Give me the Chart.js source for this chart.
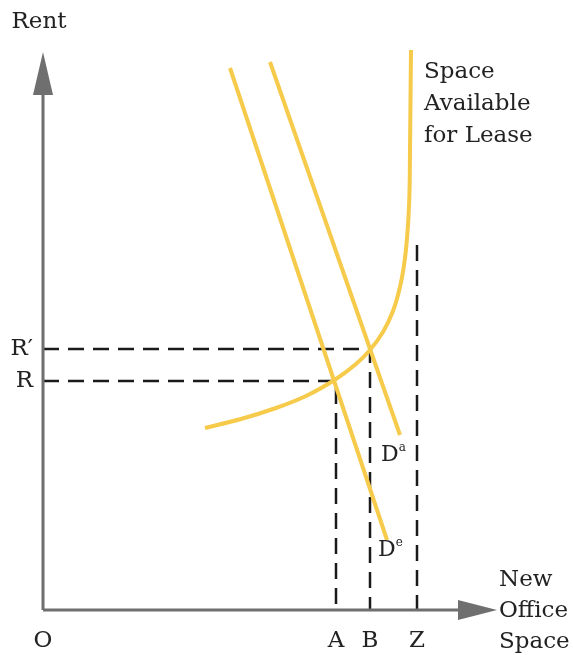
<!DOCTYPE html>
<html>
<head>
<meta charset="utf-8">
<script src="https://cdn.jsdelivr.net/npm/chart.js@4.4.1/dist/chart.umd.min.js"></script>
<style>
  body { margin: 0; background: #fff; }
  #wrap { width: 573px; height: 655px; position: relative; }
</style>
</head>
<body>
<div id="wrap"><canvas id="myChart"></canvas></div>
<script>
// quantities on the x axis (O, A, B, Z)
const qLabels = ["O", "A", "B", "Z"];
const qValues = [0, 5.86, 6.54, 7.48];
// rents on the y axis
const rentLabels = ["R\u2032", "R"];
const rentValues = [5.22, 4.58];

// space available for lease (supply curve)
const supplyX = [3.24, 3.96, 4.66, 5.26, 5.86, 6.26, 6.54, 6.8, 7.0, 7.14, 7.24, 7.3, 7.33, 7.34, 7.35, 7.36];
const supplyY = [3.64, 3.82, 4.04, 4.28, 4.62, 4.92, 5.2, 5.56, 5.98, 6.46, 7.04, 7.7, 8.36, 9.2, 10.2, 11.2];

// demand lines
const demandEX = [3.74, 6.88];
const demandEY = [10.84, 1.4];
const demandAX = [4.54, 7.14];
const demandAY = [10.96, 3.5];

// top of the dashed line at Z
const zTop = 7.3;

const yellow = "#f6ca4a";
const font = "'DejaVu Serif', 'Liberation Serif', serif";

const pts = (xs, ys) => xs.map((x, i) => ({ x: x, y: ys[i] }));

const guide = {
  borderColor: "#1a1a1a",
  borderWidth: 2.5,
  borderDash: [16, 9],
  pointRadius: 0,
  showLine: true,
  fill: false,
};

const ctx = document.getElementById("myChart");

const overlay = {
  id: "overlay",
  afterDatasetsDraw(chart) {
    const c = chart.ctx;
    const xs = chart.scales.x;
    const ys = chart.scales.y;
    const px = (v) => xs.getPixelForValue(v);
    const py = (v) => ys.getPixelForValue(v);
    const x0 = px(0), y0 = py(0);

    // axes with arrow heads
    c.save();
    c.strokeStyle = "#6f6f6f";
    c.fillStyle = "#6f6f6f";
    c.lineWidth = 3;
    c.beginPath();
    c.moveTo(x0, y0);
    c.lineTo(x0, py(10.4));
    c.moveTo(x0, y0);
    c.lineTo(px(8.4), y0);
    c.stroke();
    c.beginPath();
    c.moveTo(x0, py(11.16));
    c.lineTo(x0 - 10, py(10.3));
    c.lineTo(x0 + 10, py(10.3));
    c.closePath();
    c.fill();
    c.beginPath();
    c.moveTo(px(9.08), y0);
    c.lineTo(px(8.3), y0 - 10);
    c.lineTo(px(8.3), y0 + 10);
    c.closePath();
    c.fill();
    c.restore();

    c.save();
    c.fillStyle = "#222";
    c.font = "23px " + font;
    c.textBaseline = "middle";

    // tick labels on the quantity axis
    c.textAlign = "center";
    qLabels.forEach((t, i) => c.fillText(t, px(qValues[i]), y0 + 31));
    // rent labels
    c.textAlign = "right";
    rentLabels.forEach((t, i) => c.fillText(t, x0 - 10, py(rentValues[i])));

    // axis titles
    c.textAlign = "center";
    c.fillText("Rent", x0 - 4, 22);
    c.textAlign = "left";
    ["New", "Office", "Space"].forEach((t, i) =>
      c.fillText(t, px(9.12), y0 - 30 + i * 31)
    );
    ["Space", "Available", "for Lease"].forEach((t, i) =>
      c.fillText(t, px(7.62), 72 + i * 32)
    );

    // demand curve labels
    const dLabel = (sup, x, y) => {
      c.font = "22px " + font;
      c.textAlign = "left";
      c.fillText("D", px(x), py(y));
      const w = c.measureText("D").width;
      c.font = "12px " + font;
      c.fillText(sup, px(x) + w, py(y) - 7);
    };
    dLabel("a", 6.76, 3.1);
    dLabel("e", 6.7, 1.2);
    c.restore();
  },
};

new Chart(ctx, {
  type: "scatter",
  data: {
    datasets: [
      {
        label: "Space Available for Lease",
        data: pts(supplyX, supplyY),
        indexAxis: "y",
        showLine: true,
        borderColor: yellow,
        borderWidth: 4,
        pointRadius: 0,
        cubicInterpolationMode: "monotone",
      },
      {
        label: "De",
        data: pts(demandEX, demandEY),
        showLine: true,
        borderColor: yellow,
        borderWidth: 4,
        pointRadius: 0,
      },
      {
        label: "Da",
        data: pts(demandAX, demandAY),
        showLine: true,
        borderColor: yellow,
        borderWidth: 4,
        pointRadius: 0,
      },
      {
        ...guide,
        label: "R'",
        data: [
          { x: 0, y: rentValues[0] },
          { x: qValues[2], y: rentValues[0] },
          { x: qValues[2], y: 0 },
        ],
      },
      {
        ...guide,
        label: "R",
        data: [
          { x: 0, y: rentValues[1] },
          { x: qValues[1], y: rentValues[1] },
          { x: qValues[1], y: 0 },
        ],
      },
      {
        ...guide,
        label: "Z",
        data: [
          { x: qValues[3], y: zTop },
          { x: qValues[3], y: 0 },
        ],
      },
    ],
  },
  options: {
    responsive: true,
    maintainAspectRatio: false,
    animation: false,
    layout: {
      padding: { left: 43, right: 30, top: 10, bottom: 45 },
    },
    plugins: {
      legend: { display: false },
      tooltip: { enabled: false },
    },
    scales: {
      x: { type: "linear", min: 0, max: 10, display: false },
      y: { type: "linear", min: 0, max: 12, display: false },
    },
  },
  plugins: [overlay],
});
</script>
</body>
</html>
